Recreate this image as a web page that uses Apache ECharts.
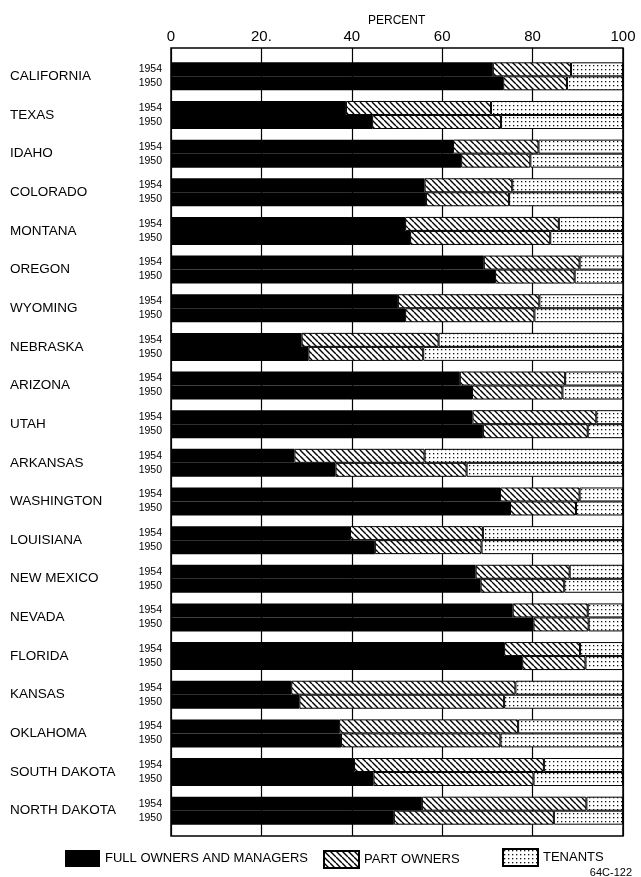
<!DOCTYPE html>
<html><head><meta charset="utf-8">
<script src="https://cdn.jsdelivr.net/npm/echarts@6/dist/echarts.min.js"></script>
<style>html,body{margin:0;padding:0;background:#fff}#c{width:641px;height:877px}</style>
</head><body><div id="c"></div>
<script>
const states = ['CALIFORNIA','TEXAS','IDAHO','COLORADO','MONTANA','OREGON','WYOMING','NEBRASKA','ARIZONA','UTAH','ARKANSAS','WASHINGTON','LOUISIANA','NEW MEXICO','NEVADA','FLORIDA','KANSAS','OKLAHOMA','SOUTH DAKOTA','NORTH DAKOTA'];
const years = ['1954','1950'];
const seriesNames = ['FULL OWNERS AND MANAGERS','PART OWNERS','TENANTS'];
const tickLabels = ['0','20.','40','60','80','100'];
const full1954 = [71.2,38.7,62.4,56.1,51.8,69.2,50.2,28.9,63.9,66.7,27.3,72.8,39.6,67.4,75.6,73.7,26.6,37.2,40.5,55.5];
const part1954 = [17.3,32.1,18.9,19.4,34.0,21.2,31.3,30.3,23.3,27.4,28.8,17.6,29.4,20.8,16.6,16.8,49.6,39.6,42.0,36.4];
const ten1954  = [11.5,29.2,18.7,24.5,14.2,9.6,18.5,40.8,12.8,5.9,43.9,9.6,31.0,11.8,7.8,9.5,23.8,23.2,17.5,8.1];
const full1950 = [73.5,44.5,64.2,56.4,52.9,71.7,51.8,30.4,66.6,69.0,36.4,75.0,45.1,68.5,80.2,77.7,28.4,37.6,44.8,49.3];
const part1950 = [14.1,28.5,15.3,18.4,31.0,17.6,28.6,25.4,20.0,23.2,29.0,14.6,23.6,18.5,12.2,14.0,45.3,35.3,35.4,35.4];
const ten1950  = [12.4,27.0,20.5,25.2,16.1,10.7,19.6,44.2,13.4,7.8,34.6,10.4,31.3,13.0,7.6,8.3,26.3,27.1,19.8,15.3];

function hatchPattern(){
  const s=6, c=document.createElement('canvas'); c.width=s; c.height=s;
  const g=c.getContext('2d'); g.fillStyle='#fff'; g.fillRect(0,0,s,s);
  g.strokeStyle='#000'; g.lineWidth=1.4; g.beginPath();
  for(const o of [-s,0,s]){ g.moveTo(o,0); g.lineTo(o+s,s); }
  g.stroke(); return c;
}
function dotPattern(){
  const w=4, h=4, c=document.createElement('canvas'); c.width=w; c.height=h;
  const g=c.getContext('2d'); g.fillStyle='#fff'; g.fillRect(0,0,w,h);
  g.fillStyle='#111'; g.fillRect(1,1,1.3,1.3); return c;
}
const FONT = 'Liberation Sans, Arial, sans-serif';
const fills = ['#000', {image: hatchPattern(), repeat:'repeat'}, {image: dotPattern(), repeat:'repeat'}];
const dataByYear = {'1954':[full1954,part1954,ten1954], '1950':[full1950,part1950,ten1950]};

const series = [];
years.forEach(y => {
  dataByYear[y].forEach((arr, k) => {
    series.push({
      type:'bar', name: seriesNames[k], stack: 's'+y, xAxisIndex:1, yAxisIndex:1,
      data: arr, barWidth: 14, barGap: '0%',
      itemStyle: {color: fills[k], borderColor:'#000', borderWidth: k===0?0:1},
      label: k===0 ? {show:true, position:'left', distance:9, formatter: y, fontSize:10.5, color:'#000', fontFamily: FONT} : {show:false},
      emphasis: {disabled:true}
    });
  });
});

const chart = echarts.init(document.getElementById('c'), null, {renderer:'canvas'});
chart.setOption({
  animation:false,
  backgroundColor:'#fff',
  title:[
    {text:'PERCENT', left:363, top:10, textStyle:{fontSize:12, fontWeight:'normal', color:'#000', fontFamily:FONT}},
    {text:'64C-122', right:4, top:862, textStyle:{fontSize:11, fontWeight:'normal', color:'#000', fontFamily:FONT}}
  ],
  grid:[
    {left:171, right:18, top:48, bottom:41, show:true, borderColor:'#000', borderWidth:1.5, backgroundColor:'transparent'},
    {left:171, right:18, top:57, bottom:47}
  ],
  xAxis:[
    {gridIndex:0, type:'value', position:'top', min:0, max:100, interval:20,
     axisLine:{show:false}, axisTick:{show:false},
     axisLabel:{margin:4, fontSize:15, color:'#000', fontFamily:FONT, formatter:(v)=>tickLabels[Math.round(v/20)]},
     splitLine:{show:true, lineStyle:{color:'#000', width:1.2}}},
    {gridIndex:1, type:'value', min:0, max:100, show:false}
  ],
  yAxis:[
    {gridIndex:0, type:'value', show:false},
    {gridIndex:1, type:'category', data:states, inverse:true,
     axisLine:{show:false}, axisTick:{show:false}, splitLine:{show:false},
     axisLabel:{align:'left', margin:161, fontSize:13.5, color:'#000', fontFamily:FONT}}
  ],
  legend:[
    {data:[seriesNames[0]], left:60, top:845, itemWidth:35, itemHeight:17, icon:'rect', selectedMode:false, textStyle:{fontSize:13, color:'#000', fontFamily:FONT}},
    {data:[seriesNames[1]], left:318, top:845, itemWidth:35, itemHeight:17, icon:'rect', selectedMode:false, textStyle:{fontSize:13, color:'#000', fontFamily:FONT}},
    {data:[seriesNames[2]], left:497, top:843, itemWidth:35, itemHeight:17, icon:'rect', selectedMode:false, textStyle:{fontSize:13, color:'#000', fontFamily:FONT}}
  ],
  series: series
});
</script></body></html>
